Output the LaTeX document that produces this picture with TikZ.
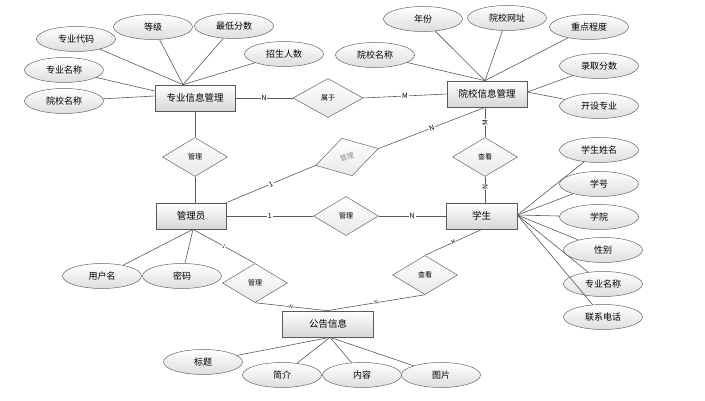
\documentclass[tikz,border=0pt]{standalone}
\usepackage{fontspec}
\setmainfont{Noto Sans CJK SC}
\usetikzlibrary{shapes.geometric,calc}

\begin{document}
\begin{tikzpicture}[x=1pt,y=-1pt,
  conn/.style={draw=black!65, line width=0.6pt},
  attr/.style={ellipse, draw=black!60, line width=0.5pt, top color=white, bottom color=black!13, minimum width=79pt, minimum height=25pt, inner sep=0pt, font=\fontsize{9}{10}\selectfont},
  ent/.style={rectangle, draw=black!65, line width=0.7pt, top color=white, bottom color=black!16, minimum height=26pt, inner sep=0pt, font=\fontsize{9.5}{11}\selectfont},
  rel/.style={diamond, draw=black!60, line width=0.5pt, top color=white, bottom color=black!9, minimum width=65pt, minimum height=39pt, inner sep=0pt, font=\fontsize{7}{8}\selectfont},
  card/.style={fill=white, inner sep=0.8pt, font=\fontsize{7}{8}\selectfont},
  cardsm/.style={fill=white, inner sep=0.4pt, font=\fontsize{5}{6}\selectfont},
]
\useasboundingbox (0,0) rectangle (705,401);

% entities
\node[ent, minimum width=80pt] (zy) at (195,98) {专业信息管理};
\node[ent, minimum width=80pt] (yx) at (487,94) {院校信息管理};
\node[ent, minimum width=70pt] (gly) at (191,216) {管理员};
\node[ent, minimum width=71pt] (xs) at (481.5,216) {学生};
\node[ent, minimum width=91pt] (gg) at (328,324) {公告信息};

% relations
\node[rel, minimum width=70pt] (d1) at (328,98) {属于};
\node[rel] (d2) at (195,157) {管理};
\node[rel, rotate=15, text=black!45] (d3) at (347,157) {管理};
\node[rel] (d4) at (485,157) {查看};
\node[rel] (d5) at (346,216) {管理};
\node[rel] (d6) at (255,283) {管理};
\node[rel] (d7) at (425,275) {查看};

% attributes
\node[attr] (a1) at (76,39) {专业代码};
\node[attr] (a2) at (153,27) {等级};
\node[attr] (a3) at (234,26) {最低分数};
\node[attr] (a4) at (284,54) {招生人数};
\node[attr] (a5) at (64,70) {专业名称};
\node[attr] (a6) at (64,101) {院校名称};

\node[attr] (b1) at (423,19) {年份};
\node[attr] (b2) at (507,18) {院校网址};
\node[attr] (b3) at (589,27) {重点程度};
\node[attr] (b4) at (375,55) {院校名称};
\node[attr] (b5) at (599,66) {录取分数};
\node[attr] (b6) at (599,106) {开设专业};

\node[attr] (c1) at (599,150) {学生姓名};
\node[attr] (c2) at (599,184) {学号};
\node[attr] (c3) at (599,217) {学院};
\node[attr] (c4) at (603,250) {性别};
\node[attr] (c5) at (603,284) {专业名称};
\node[attr] (c6) at (603,317) {联系电话};

\node[attr] (u1) at (102,276) {用户名};
\node[attr] (u2) at (182,276) {密码};

\node[attr] (g1) at (203,362) {标题};
\node[attr] (g2) at (282,375) {简介};
\node[attr] (g3) at (362,375) {内容};
\node[attr] (g4) at (441,375) {图片};

% junction points
\coordinate (zyT) at ($(zy.north)+(-12,0)$);
\coordinate (zyL1) at ($(zy.west)+(0,-7)$);
\coordinate (zyL2) at ($(zy.west)+(0,-2)$);
\coordinate (yxT) at ($(yx.north)+(-2,0)$);
\coordinate (yxR) at ($(yx.east)+(0,-2)$);
\coordinate (yxB) at ($(yx.south)+(-2,0)$);
\coordinate (glyB) at ($(gly.south)+(2,0)$);
\coordinate (xsR) at ($(xs.east)+(0,-1)$);
\coordinate (xsB) at ($(xs.south)+(0.5,0)$);
\coordinate (ggT) at ($(gg.north)+(-1,0)$);
\coordinate (ggB) at ($(gg.south)+(2,0)$);

% attribute links
\foreach \a in {a1,a2,a3,a4} \draw[conn] (\a) -- (zyT);
\draw[conn] (a5) -- (zyL1);
\draw[conn] (a6) -- (zyL2);
\foreach \b in {b1,b2,b3,b4} \draw[conn] (\b) -- (yxT);
\draw[conn] (b5) -- (yxR);
\draw[conn] (b6) -- (yxR);
\foreach \c in {c1,c2,c3,c4,c5,c6} \draw[conn] (\c) -- (xsR);
\draw[conn] (u1) -- (glyB);
\draw[conn] (u2) -- (glyB);
\foreach \g in {g1,g2,g3,g4} \draw[conn] (\g) -- (ggB);

% relationship links
\draw[conn] (zy.east) -- node[card]{N} (d1.west);
\draw[conn] (d1.east) -- node[card]{M} (yx.west);
\draw[conn] (zy.south) -- (d2.north);
\draw[conn] (d2.south) -- (d2 |- gly.north);
\draw[conn] (yxB) -- node[card, sloped]{N} (d3.east);
\draw[conn] (d3.west) -- node[card, sloped]{1} (gly.north east);
\draw[conn] (yxB) -- node[card, rotate=90]{M} (d4.north);
\draw[conn] (d4.south) -- node[card, pos=0.4, rotate=90]{N} (d4 |- xs.north);
\draw[conn] (gly.east) -- node[card]{1} (d5.west);
\draw[conn] (d5.east) -- node[card]{N} (xs.west);
\draw[conn] (glyB) -- node[cardsm, sloped]{1} (d6.north);
\draw[conn] (d6.south) -- node[cardsm, sloped]{N} (ggT);
\draw[conn] (xsB) -- node[cardsm, sloped]{M} (d7.north);
\draw[conn] (d7.south) -- node[cardsm, sloped]{N} (ggT);
\end{tikzpicture}
\end{document}
